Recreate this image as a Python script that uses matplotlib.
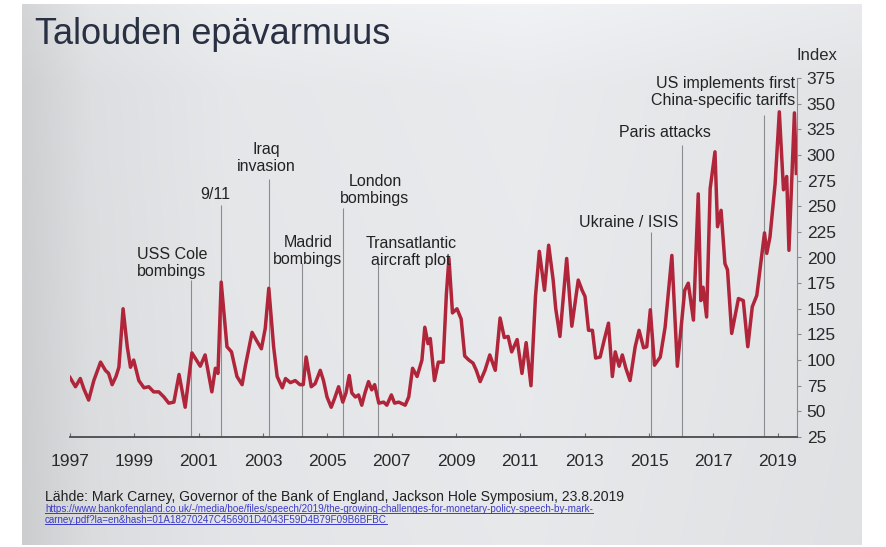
import matplotlib
matplotlib.use("Agg")
import matplotlib.pyplot as plt
import numpy as np
from matplotlib.lines import Line2D

plt.rcParams['font.family'] = ['Liberation Sans', 'DejaVu Sans']

# uncertainty index (decimal year, index value)
years = [
    1997.00, 1997.17, 1997.32, 1997.43, 1997.58, 1997.74, 1997.95, 1998.10, 1998.20, 1998.31,
    1998.43, 1998.52, 1998.65, 1998.78, 1998.88, 1998.98, 1999.14, 1999.30, 1999.45, 1999.60,
    1999.76, 1999.92, 2000.07, 2000.23, 2000.39, 2000.58, 2000.79, 2001.05, 2001.20, 2001.41,
    2001.52, 2001.60, 2001.70, 2001.88, 2002.02, 2002.19, 2002.35, 2002.45, 2002.66, 2002.80,
    2002.95, 2003.07, 2003.18, 2003.33, 2003.44, 2003.60, 2003.70, 2003.85, 2004.00, 2004.15,
    2004.25, 2004.34, 2004.50, 2004.62, 2004.78, 2004.88, 2004.99, 2005.12, 2005.23, 2005.35,
    2005.48, 2005.58, 2005.68, 2005.76, 2005.87, 2005.97, 2006.07, 2006.17, 2006.28, 2006.38,
    2006.47, 2006.60, 2006.75, 2006.85, 2006.99, 2007.09, 2007.22, 2007.42, 2007.53, 2007.65,
    2007.79, 2007.94, 2008.03, 2008.13, 2008.20, 2008.33, 2008.45, 2008.60, 2008.70, 2008.78,
    2008.89, 2009.03, 2009.16, 2009.27, 2009.40, 2009.53, 2009.63, 2009.75, 2009.90, 2010.05,
    2010.22, 2010.37, 2010.50, 2010.62, 2010.73, 2010.90, 2011.05, 2011.18, 2011.33, 2011.47,
    2011.59, 2011.75, 2011.88, 2012.02, 2012.10, 2012.23, 2012.44, 2012.60, 2012.80, 2012.92,
    2013.01, 2013.12, 2013.24, 2013.34, 2013.48, 2013.61, 2013.74, 2013.86, 2013.95, 2014.07,
    2014.17, 2014.28, 2014.41, 2014.57, 2014.69, 2014.83, 2014.93, 2015.04, 2015.17, 2015.35,
    2015.50, 2015.71, 2015.88, 2016.11, 2016.22, 2016.38, 2016.53, 2016.61, 2016.68, 2016.79,
    2016.90, 2017.05, 2017.13, 2017.24, 2017.36, 2017.44, 2017.57, 2017.78, 2017.93, 2018.07,
    2018.21, 2018.35, 2018.59, 2018.66, 2018.76, 2018.92, 2019.05, 2019.18, 2019.28, 2019.35,
    2019.52, 2019.58,
]
index_vals = [
    83, 74, 82, 72, 61, 80, 98, 90, 87, 76,
    84, 93, 150, 113, 93, 100, 80, 73, 74, 69,
    69, 64, 58, 59, 86, 54, 107, 94, 105, 69,
    92, 87, 176, 113, 108, 84, 76, 94, 127, 119,
    111, 131, 170, 113, 84, 73, 82, 78, 80, 76,
    76, 103, 74, 77, 90, 80, 64, 54, 63, 74,
    59, 68, 85, 68, 64, 66, 56, 68, 79, 71,
    76, 58, 59, 56, 66, 58, 59, 56, 64, 92,
    84, 100, 132, 116, 121, 80, 98, 98, 164, 199,
    146, 150, 140, 104, 100, 97, 90, 79, 90, 105,
    90, 141, 122, 123, 108, 120, 87, 117, 75, 162,
    206, 168, 212, 178, 150, 123, 199, 133, 178, 168,
    162, 129, 129, 102, 103, 120, 136, 84, 108, 94,
    105, 92, 80, 113, 129, 112, 113, 149, 95, 103,
    132, 202, 94, 168, 175, 139, 262, 158, 171, 142,
    267, 303, 230, 246, 194, 188, 126, 160, 158, 113,
    152, 163, 224, 204, 220, 272, 342, 266, 279, 207,
    341, 282,
]

# events: label, date of the marker line, top of the line, label position
event_labels = ['USS Cole\nbombings', '9/11', 'Iraq\ninvasion', 'Madrid\nbombings',
                'London\nbombings', 'Transatlantic\naircraft plot', 'Ukraine / ISIS',
                'Paris attacks', 'US implements first\nChina-specific tariffs']
event_x = [2000.76, 2001.69, 2003.19, 2004.21, 2005.49, 2006.57, 2015.06, 2016.02, 2018.57]
event_top = [178, 251, 277, 195, 248, 195, 225, 310, 339]
label_x = [2000.17, 2001.51, 2003.09, 2004.40, 2006.48, 2007.60, 2014.38, 2015.50, 2019.55]
label_y = [195, 261, 297, 206, 266, 205, 234, 322, 361]

y_ticks = list(range(25, 376, 25))
x_ticks = list(range(1997, 2020, 2))

fig = plt.figure(figsize=(8.87, 5.47), dpi=100)
fig.patch.set_facecolor('white')

# photographed slide background
bg = fig.add_axes([0, 0, 1, 1], zorder=-5)
bg.set_xlim(0, 887)
bg.set_ylim(547, 0)
bg.axis('off')
gx = np.linspace(0, 1, 400)
row = np.interp(gx, [0, 0.08, 0.25, 0.6, 1.0], [0.82, 0.88, 0.915, 0.93, 0.90])
col = np.interp(np.linspace(0, 1, 200), [0, 0.15, 1], [1.03, 1.0, 0.99])
shade = np.clip(np.outer(col, row), 0, 1)
rgb = np.dstack([shade * 0.985, shade * 0.99, shade * 1.0])
bg.imshow(np.clip(rgb, 0, 1), extent=[22, 862, 545, 4], aspect='auto')

# title
fig.text(35 / 887, 1 - 34 / 547, 'Talouden epävarmuus', fontsize=26, color='#283042',
         family=['Liberation Sans'], va='center', ha='left')

ax = fig.add_axes([70 / 887, 110 / 547, 727 / 887, 359 / 547])
ax.patch.set_alpha(0)
ax.plot(years, index_vals, color='#b0253a', lw=2.5, solid_joinstyle='round', zorder=3)

ax.vlines(event_x, 25, event_top, color='#8c8c90', lw=0.8, zorder=2)
for lab, lx, ly in zip(event_labels, label_x, label_y):
    ha = 'right' if lx > 2019 else 'center'
    ax.text(lx, ly, lab, ha=ha, va='center', multialignment=ha, fontsize=11.5,
            color='#232323', linespacing=1.15, zorder=4)

ax.set_xlim(1997, 2019.6)
ax.set_ylim(25, 375)
for s in ['top', 'left']:
    ax.spines[s].set_visible(False)
ax.spines['bottom'].set_color('#4a4a4f')
ax.spines['bottom'].set_linewidth(1.3)
ax.spines['right'].set_color('#8c8c90')
ax.spines['right'].set_linewidth(0.8)

ax.yaxis.tick_right()
ax.set_yticks(y_ticks)
ax.set_xticks(x_ticks)
ax.tick_params(axis='y', which='both', left=False, right=True, direction='out', length=3,
               width=0.8, color='#8c8c90', labelsize=12.5, labelcolor='#2a2a2a', pad=4)
ax.tick_params(axis='x', direction='in', length=3, width=0.8, color='#6a6a6f',
               labelsize=12.5, labelcolor='#2a2a2a', pad=12)

fig.text(817 / 887, 1 - 56 / 547, 'Index', ha='center', va='center', fontsize=12, color='#2a2a2a')

# source
fig.text(45 / 887, 1 - 497 / 547,
         'Lähde: Mark Carney, Governor of the Bank of England, Jackson Hole Symposium, 23.8.2019',
         fontsize=10.1, color='#222222', va='center', ha='left')
url1 = fig.text(45 / 887, 1 - 509 / 547,
                'https://www.bankofengland.co.uk/-/media/boe/files/speech/2019/the-growing-challenges-for-monetary-policy-speech-by-mark-',
                fontsize=7.1, color='#3b3bc8', va='center', ha='left')
url2 = fig.text(45 / 887, 1 - 520 / 547,
                'carney.pdf?la=en&hash=01A18270247C456901D4043F59D4B79F09B6BFBC',
                fontsize=7.1, color='#3b3bc8', va='center', ha='left')

fig.canvas.draw()
r = fig.canvas.get_renderer()
for t in [url1, url2]:
    bb = t.get_window_extent(r)
    fig.lines.append(Line2D([bb.x0 / 887, bb.x1 / 887], [(bb.y0 + 1) / 547] * 2,
                            transform=fig.transFigure, color='#3b3bc8', lw=0.7))

fig.savefig('out.png', dpi=100, facecolor=fig.get_facecolor())
